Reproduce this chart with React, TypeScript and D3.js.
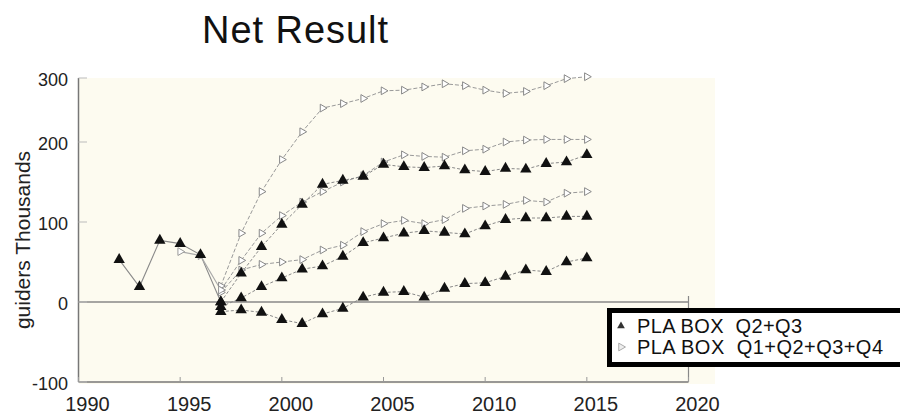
import React from "react";
import * as d3 from "d3";

const title = "Net Result";
const yAxisTitle = "guiders Thousands";
const xTicks = [1990, 1995, 2000, 2005, 2010, 2015, 2020];
const yTicks = [-100, 0, 100, 200, 300];
const legendLabels = ["PLA BOX  Q2+Q3", "PLA BOX  Q1+Q2+Q3+Q4"];

const historyYears = [1992, 1993, 1994, 1995, 1996, 1997];
const historyValues = [53, 19, 77, 73, 59, 0];
const historyOpenYears = [1995, 1996, 1997];
const historyOpenValues = [63, 58, 15];

const years = [1997, 1998, 1999, 2000, 2001, 2002, 2003, 2004, 2005, 2006, 2007, 2008, 2009, 2010, 2011, 2012, 2013, 2014, 2015];
// Q2+Q3 (filled triangles)
const filledHigh = [0, 36, 69, 97, 122, 147, 152, 157, 172, 169, 168, 170, 165, 163, 167, 166, 173, 175, 184];
const filledMid = [-6, 5, 19, 30, 41, 45, 57, 74, 80, 86, 89, 87, 85, 95, 103, 105, 105, 107, 107];
const filledLow = [-12, -10, -13, -22, -27, -15, -8, 6, 12, 13, 6, 17, 23, 24, 32, 40, 38, 50, 55];
// Q1+Q2+Q3+Q4 (open markers)
const openHigh = [20, 86, 138, 178, 216, 253, 260, 268, 280, 281, 286, 291, 288, 281, 276, 279, 288, 299, 302];
const openMid = [15, 52, 86, 108, 125, 138, 150, 158, 175, 184, 182, 181, 189, 191, 200, 203, 204, 204, 204];
const openLow = [12, 40, 47, 50, 53, 65, 71, 88, 98, 102, 98, 103, 117, 120, 122, 127, 125, 136, 138];

const W = 900;
const H = 417;

const x = d3.scaleLinear().domain([1990, 2020]).range([78.5, 688.5]);
const y = d3.scaleLinear().domain([-100, 0, 100, 200, 300]).range([382, 302, 222, 142, 78]);

const line = d3
  .line<[number, number]>()
  .x((d) => x(d[0]))
  .y((d) => y(d[1]));

const tri = d3.symbol().type(d3.symbolTriangle).size(56)() as string;
const triSmall = d3.symbol().type(d3.symbolTriangle).size(26)() as string;
const openSym = d3.symbol().type(d3.symbolTriangle).size(26)() as string;

const font = "'Liberation Sans', Arial, sans-serif";

function zip(xs: number[], vs: number[]): [number, number][] {
  return xs.map((v, i) => [v, vs[i]]);
}

export default function App() {
  const filled = [filledHigh, filledMid, filledLow];
  const open = [openHigh, openMid, openLow];
  return (
    <svg width={W} height={H} style={{ position: "absolute", left: 0, top: 0, background: "#fff" }}>
      <text x={202} y={43} fontFamily={font} fontSize={38} fill="#111" textLength={186} lengthAdjust="spacing">
        {title}
      </text>
      {/* plot background */}
      <rect x={79} y={78} width={636} height={306} fill="#fdfbf0" />
      {/* axes */}
      <line x1={78.5} y1={78} x2={78.5} y2={382} stroke="#777" strokeWidth={1.5} />
      <line x1={78.5} y1={382} x2={688.5} y2={382} stroke="#777" strokeWidth={1.5} />
      <line x1={688.5} y1={296} x2={688.5} y2={382} stroke="#888" strokeWidth={1.2} />
      <line x1={78.5} y1={y(0)} x2={688.5} y2={y(0)} stroke="#888" strokeWidth={1.5} />
      {yTicks.map((t) => (
        <g key={t}>
          <line x1={78.5} x2={87} y1={y(t)} y2={y(t)} stroke="#bbb" strokeWidth={1} />
          <text x={68} y={y(t) + 3} textAnchor="end" dominantBaseline="middle" fontFamily={font} fontSize={18} fill="#222">
            {t}
          </text>
        </g>
      ))}
      {xTicks.map((t) => (
        <g key={t}>
          <line x1={x(t)} x2={x(t)} y1={382} y2={377} stroke="#999" strokeWidth={1} />
          <text x={x(t) + 9} y={411} textAnchor="middle" fontFamily={font} fontSize={20} fill="#222">
            {t}
          </text>
        </g>
      ))}
      <text
        transform={`translate(30, 240) rotate(-90)`}
        textAnchor="middle"
        fontFamily={font}
        fontSize={21}
        fill="#222"
      >
        {yAxisTitle}
      </text>

      {/* history */}
      <path d={line(zip(historyYears, historyValues)) as string} fill="none" stroke="#8a8a8a" strokeWidth={1.1} />
      <path d={line(zip(historyOpenYears, historyOpenValues)) as string} fill="none" stroke="#aaa" strokeWidth={1.1} />

      {/* open series */}
      {open.map((s, i) => (
        <g key={"o" + i}>
          <path d={line(zip(years, s)) as string} fill="none" stroke="#999" strokeWidth={1} strokeDasharray="4,2" />
          {years.map((yr, j) => (
            <path
              key={j}
              d={openSym}
              transform={`translate(${x(yr)},${y(s[j])}) rotate(90)`}
              fill="#fff"
              stroke="#888"
              strokeWidth={1}
            />
          ))}
        </g>
      ))}
      {historyOpenYears.map((yr, j) => (
        <path
          key={"ho" + j}
          d={openSym}
          transform={`translate(${x(yr)},${y(historyOpenValues[j])}) rotate(90)`}
          fill="#fff"
          stroke="#999"
          strokeWidth={1}
        />
      ))}

      {/* filled series */}
      {filled.map((s, i) => (
        <g key={"f" + i}>
          <path d={line(zip(years, s)) as string} fill="none" stroke="#888" strokeWidth={1} strokeDasharray="3,2" />
          {years.map((yr, j) => (
            <path key={j} d={tri} transform={`translate(${x(yr)},${y(s[j])})`} fill="#111" />
          ))}
        </g>
      ))}
      {historyYears.map((yr, j) => (
        <path key={"h" + j} d={tri} transform={`translate(${x(yr)},${y(historyValues[j])})`} fill="#111" />
      ))}

      {/* legend */}
      <rect x={609.5} y={310.5} width={300} height={54} fill="#fff" stroke="#000" strokeWidth={5} />
      <path d={triSmall} transform="translate(621,326)" fill="#333" />
      <path d={openSym} transform="translate(621,347) rotate(90)" fill="#eee" stroke="#aaa" strokeWidth={1} />
      <text x={637} y={333} fontFamily={font} fontSize={20} fill="#111" textLength={165} lengthAdjust="spacing" style={{ whiteSpace: "pre" }}>
        {legendLabels[0]}
      </text>
      <text x={637} y={354} fontFamily={font} fontSize={20} fill="#111" textLength={246} lengthAdjust="spacing" style={{ whiteSpace: "pre" }}>
        {legendLabels[1]}
      </text>
    </svg>
  );
}
